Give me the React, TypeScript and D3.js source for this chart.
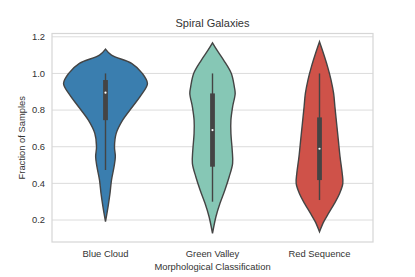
import * as d3 from 'd3'

const W = 415
const H = 277
const M = { top: 33.5, right: 42, bottom: 35, left: 52 }

const categories = ['Blue Cloud', 'Green Valley', 'Red Sequence']
const colors = ['#3a7eaf', '#86c7b5', '#cf5249']

// violin outline: [value, relative half width]
const blueDensity: [number, number][] = [
  [1.133, 0], [1.1, 0.14], [1.055, 0.61], [1.0, 0.86], [0.945, 0.98], [0.891, 0.86],
  [0.818, 0.63], [0.745, 0.4], [0.673, 0.25], [0.6, 0.21], [0.545, 0.23], [0.491, 0.2],
  [0.418, 0.14], [0.345, 0.105], [0.273, 0.06], [0.191, 0],
]
const greenDensity: [number, number][] = [
  [1.167, 0], [1.127, 0.105], [1.073, 0.26], [1.0, 0.44], [0.927, 0.51], [0.891, 0.53],
  [0.818, 0.47], [0.745, 0.43], [0.673, 0.43], [0.582, 0.46], [0.509, 0.47], [0.436, 0.39],
  [0.364, 0.29], [0.291, 0.175], [0.218, 0.08], [0.127, 0],
]
const redDensity: [number, number][] = [
  [1.173, 0], [1.109, 0.093], [1.036, 0.19], [0.964, 0.27], [0.891, 0.33], [0.818, 0.36],
  [0.727, 0.4], [0.636, 0.44], [0.545, 0.48], [0.455, 0.53], [0.4, 0.545], [0.345, 0.47],
  [0.291, 0.35], [0.236, 0.21], [0.191, 0.1], [0.136, 0],
]
const densities = [blueDensity, greenDensity, redDensity]

// [whisker low, q1, median, q3, whisker high]
const boxStats = [
  [0.473, 0.745, 0.895, 0.964, 1.0],
  [0.3, 0.491, 0.691, 0.891, 1.0],
  [0.309, 0.418, 0.589, 0.76, 1.0],
]

const yTicks = [0.2, 0.4, 0.6, 0.8, 1.0, 1.2]

const FONT = '"Liberation Sans", Arial, sans-serif'
const TEXT = '#333'

export default function App() {
  const x = d3
    .scaleBand()
    .domain(categories)
    .range([M.left, W - M.right])
  const y = d3
    .scaleLinear()
    .domain([0.08, 1.218])
    .range([H - M.bottom, M.top])
  const halfWidth = d3
    .scaleLinear()
    .domain([0, 1])
    .range([0, x.bandwidth() * 0.4])

  return (
    <svg
      width={W}
      height={H}
      style={{ position: 'fixed', left: 0, top: 0, background: '#fff' }}
      fontFamily={FONT}
    >
      <rect x={0} y={0} width={W} height={H} fill="#fff" />
      {yTicks.map((t) => (
        <g key={t}>
          <line
            x1={M.left}
            x2={W - M.right}
            y1={y(t)}
            y2={y(t)}
            stroke="#dcdcdc"
            strokeWidth={1}
          />
          <text
            x={M.left - 7}
            y={y(t)}
            dy="0.35em"
            textAnchor="end"
            fontSize={9.4}
            fill={TEXT}
          >
            {t.toFixed(1)}
          </text>
        </g>
      ))}
      <rect
        x={M.left}
        y={M.top}
        width={W - M.left - M.right}
        height={H - M.top - M.bottom}
        fill="none"
        stroke="#d6d6d6"
        strokeWidth={1.2}
      />

      {categories.map((c, i) => {
        const cx = x(c)! + x.bandwidth() / 2
        const area = d3
          .area<[number, number]>()
          .y((d) => y(d[0]))
          .x0((d) => cx - halfWidth(d[1]))
          .x1((d) => cx + halfWidth(d[1]))
          .curve(d3.curveCatmullRom)
        const [lo, q1, med, q3, hi] = boxStats[i]
        return (
          <g key={c}>
            <path
              d={area(densities[i]) ?? ''}
              fill={colors[i]}
              stroke="#444"
              strokeWidth={1.4}
            />
            <line x1={cx} x2={cx} y1={y(hi)} y2={y(lo)} stroke="#444" strokeWidth={1.4} />
            <rect
              x={cx - 2.4}
              y={y(q3)}
              width={4.8}
              height={y(q1) - y(q3)}
              fill="#444"
            />
            <circle cx={cx} cy={y(med)} r={1.1} fill="#fff" />
            <text
              x={cx}
              y={H - M.bottom + 15}
              textAnchor="middle"
              fontSize={9.4}
              fill={TEXT}
            >
              {c}
            </text>
          </g>
        )
      })}

      <text
        x={(M.left + W - M.right) / 2}
        y={H - 7}
        textAnchor="middle"
        fontSize={9.4}
        fill={TEXT}
      >
        Morphological Classification
      </text>
      <text
        transform={`translate(25,${(M.top + H - M.bottom) / 2}) rotate(-90)`}
        textAnchor="middle"
        fontSize={9.4}
        fill={TEXT}
      >
        Fraction of Samples
      </text>
      <text
        x={(M.left + W - M.right) / 2}
        y={M.top - 7}
        textAnchor="middle"
        fontSize={11}
        fill={TEXT}
      >
        Spiral Galaxies
      </text>
    </svg>
  )
}
